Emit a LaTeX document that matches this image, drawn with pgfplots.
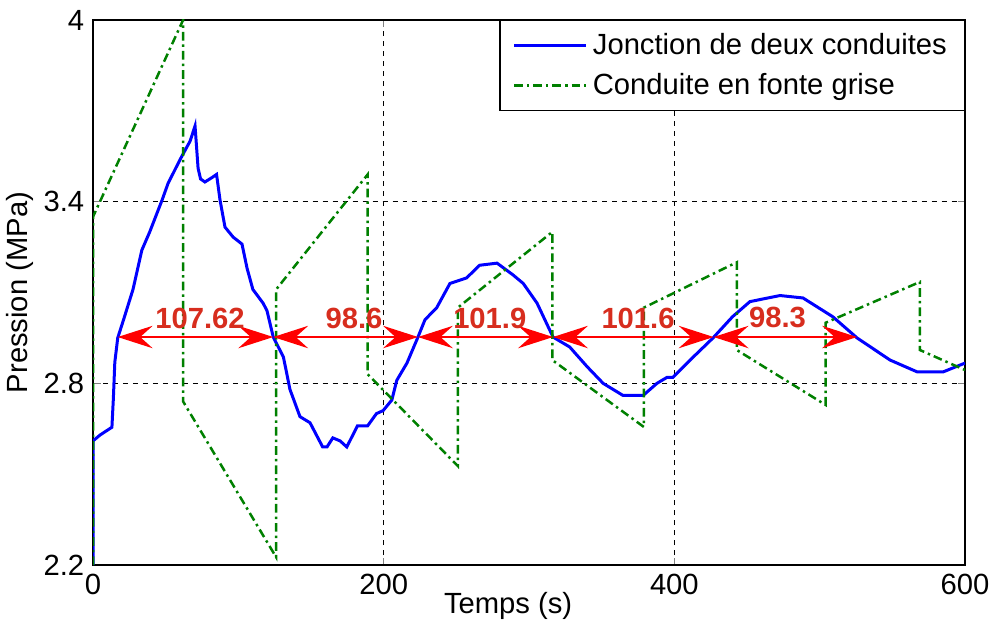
\documentclass[border=0pt]{standalone}
\usepackage{fontspec}
\setmainfont{Liberation Sans}
\usepackage{pgfplots}
\pgfplotsset{compat=1.18}
\usetikzlibrary{arrows.meta}
\definecolor{mgreen}{rgb}{0,0.5,0}
\definecolor{labred}{RGB}{215,45,30}
\newcommand{\fs}{\fontsize{11.7pt}{14pt}\selectfont}
\begin{document}
\begin{tikzpicture}[font=\fs]
\begin{axis}[
    scale only axis,
    width=349.4pt,
    height=218.4pt,
    xmin=0, xmax=600,
    ymin=2.2, ymax=4,
    xtick={0,200,400,600},
    ytick={2.2,2.8,3.4,4},
    /pgf/number format/assume math mode=true,
    yticklabel style={/pgf/number format/fixed, /pgf/number format/precision=1},
    ticklabel style={font=\fs},
    grid=major,
    major grid style={black, dash pattern=on 2pt off 2pt, line width=0.4pt},
    tick align=inside,
    major tick length=3pt,
    axis line style={line width=0.6pt},
    xlabel=Temps (s),
    ylabel=Pression (MPa),
    xlabel style={at={(axis description cs:0.476,0)}, anchor=center, yshift=-16.4pt},
    ylabel style={at={(axis description cs:0,0.5)}, anchor=center, yshift=29.3pt},
    legend cell align=left,
    legend style={at={(1,1)}, anchor=north east, draw=black, line width=0.6pt,
        font=\fs, inner xsep=5pt, inner ysep=3pt, row sep=2pt},
    legend image code/.code={\draw[#1] (0pt,0pt) -- (29pt,0pt);},
]
\addplot[blue, line width=1.2pt] coordinates {
  (0,2.2) (0,2.61) (5,2.63) (13,2.655) (14,2.75) (15,2.87) (17,2.95) (21,3.01)
  (27.5,3.11) (33.6,3.24) (39,3.30) (47.5,3.405) (51.6,3.46) (60,3.54) (66.8,3.60)
  (70.2,3.65) (72.3,3.51) (74,3.475) (77,3.465) (82,3.48) (85,3.49) (87.4,3.405)
  (90.8,3.316) (96.4,3.283) (102.5,3.26) (106,3.18) (110,3.11) (117,3.065)
  (119.7,3.04) (124,2.953) (131,2.887) (135.5,2.78) (142.4,2.69) (149.3,2.67)
  (158,2.59) (161,2.59) (165,2.62) (170,2.61) (174.6,2.59) (182,2.66) (189,2.66)
  (195,2.70) (199.6,2.71) (205.6,2.745) (209,2.81) (216,2.867) (223.6,2.953)
  (228.4,3.01) (236.5,3.05) (245.6,3.13) (257,3.148) (266,3.19) (278,3.197)
  (289,3.158) (296,3.13) (305.5,3.065) (316.5,2.953) (328,2.92) (340,2.855)
  (351,2.80) (364.7,2.76) (378.5,2.76) (388,2.80) (395,2.82) (399,2.82)
  (413,2.887) (426.6,2.95) (440,3.02) (452,3.07) (472.7,3.09) (488.5,3.082)
  (509,3.02) (525.7,2.95) (548.4,2.877) (567,2.838) (585,2.838) (600,2.867)};
\addlegendentry{Jonction de deux conduites}
\addplot[mgreen, line width=1pt, dash pattern=on 3.5pt off 1.6pt on 1pt off 1.6pt] coordinates {
  (0,2.2) (0,3.35) (62,4.0) (62,2.74) (126,2.226) (126,3.11) (189,3.49) (189,2.83)
  (251,2.527) (251,3.05) (316,3.30) (316,2.877) (379,2.656) (379,3.05) (443,3.20)
  (443,2.91) (504,2.729) (504,3.0) (569,3.135) (569,2.91) (600,2.844)};
\addlegendentry{Conduite en fonte grise}
% period markers
\pgfplotsset{every axis plot/.append style={forget plot}}
\addplot[red, line width=0.5pt, {Stealth[length=14pt,width=9pt,inset=5pt]}-{Stealth[length=14pt,width=9pt,inset=5pt]}] coordinates {(17,2.953) (124,2.953)};
\addplot[red, line width=0.5pt, {Stealth[length=14pt,width=9pt,inset=5pt]}-{Stealth[length=14pt,width=9pt,inset=5pt]}] coordinates {(124,2.953) (223.6,2.953)};
\addplot[red, line width=0.5pt, {Stealth[length=14pt,width=9pt,inset=5pt]}-{Stealth[length=14pt,width=9pt,inset=5pt]}] coordinates {(223.6,2.953) (316.5,2.953)};
\addplot[red, line width=0.5pt, {Stealth[length=14pt,width=9pt,inset=5pt]}-{Stealth[length=14pt,width=9pt,inset=5pt]}] coordinates {(316.5,2.953) (427,2.953)};
\addplot[red, line width=0.5pt, {Stealth[length=14pt,width=9pt,inset=5pt]}-{Stealth[length=14pt,width=9pt,inset=5pt]}] coordinates {(427,2.953) (525.7,2.953)};
\node[text=labred, font=\fs\bfseries] at (axis cs:73.6,3.016) {107.62};
\node[text=labred, font=\fs\bfseries] at (axis cs:179.6,3.016) {98.6};
\node[text=labred, font=\fs\bfseries] at (axis cs:273,3.016) {101.9};
\node[text=labred, font=\fs\bfseries] at (axis cs:375,3.016) {101.6};
\node[text=labred, font=\fs\bfseries] at (axis cs:471,3.016) {98.3};
\end{axis}
\pgfresetboundingbox
\useasboundingbox (-37.27pt,-26.05pt) rectangle (361.0pt,226.4pt);
\end{tikzpicture}
\end{document}
